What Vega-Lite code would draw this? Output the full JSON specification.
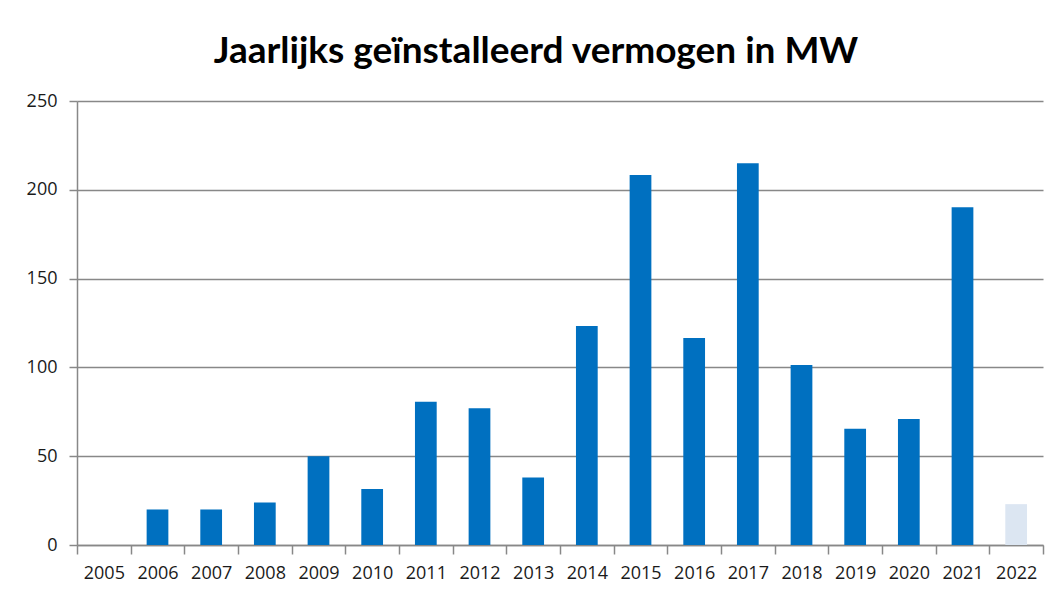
{
  "$schema": "https://vega.github.io/schema/vega-lite/v6.json",
  "autosize": {"type": "none"},
  "width": 966,
  "height": 444,
  "padding": {"left": 77, "top": 101, "right": 14, "bottom": 50},
  "background": "white",
  "title": {
    "text": "Jaarlijks geïnstalleerd vermogen in MW",
    "font": "Lato",
    "fontSize": 37,
    "fontWeight": "bold",
    "color": "#000000",
    "anchor": "middle",
    "dx": -24,
    "offset": 21
  },
  "data": {
    "values": [
      {"jaar": "2005", "mw": 0, "soort": "definitief"},
      {"jaar": "2006", "mw": 20, "soort": "definitief"},
      {"jaar": "2007", "mw": 20, "soort": "definitief"},
      {"jaar": "2008", "mw": 24, "soort": "definitief"},
      {"jaar": "2009", "mw": 50, "soort": "definitief"},
      {"jaar": "2010", "mw": 31.6, "soort": "definitief"},
      {"jaar": "2011", "mw": 80.6, "soort": "definitief"},
      {"jaar": "2012", "mw": 77, "soort": "definitief"},
      {"jaar": "2013", "mw": 38, "soort": "definitief"},
      {"jaar": "2014", "mw": 123.3, "soort": "definitief"},
      {"jaar": "2015", "mw": 208.4, "soort": "definitief"},
      {"jaar": "2016", "mw": 116.6, "soort": "definitief"},
      {"jaar": "2017", "mw": 215, "soort": "definitief"},
      {"jaar": "2018", "mw": 101.4, "soort": "definitief"},
      {"jaar": "2019", "mw": 65.4, "soort": "definitief"},
      {"jaar": "2020", "mw": 71, "soort": "definitief"},
      {"jaar": "2021", "mw": 190.2, "soort": "definitief"},
      {"jaar": "2022", "mw": 23, "soort": "voorlopig"}
    ]
  },
  "mark": {"type": "bar", "width": {"band": 0.405}},
  "encoding": {
    "x": {
      "field": "jaar",
      "type": "ordinal",
      "title": null,
      "scale": {"paddingInner": 0, "paddingOuter": 0},
      "axis": {
        "labelAngle": 0,
        "tickBand": "extent",
        "tickSize": 9,
        "tickColor": "#888888",
        "domainColor": "#888888",
        "domainWidth": 1.5,
        "tickWidth": 1.5,
        "labelFont": "Open Sans",
        "labelFontSize": 18,
        "labelColor": "#1a1a1a",
        "labelPadding": 10,
        "grid": false
      }
    },
    "y": {
      "field": "mw",
      "type": "quantitative",
      "title": null,
      "scale": {"domain": [0, 250], "nice": false},
      "axis": {
        "values": [0, 50, 100, 150, 200, 250],
        "tickSize": 8,
        "tickColor": "#888888",
        "tickWidth": 1.5,
        "domainColor": "#888888",
        "domainWidth": 1.5,
        "gridColor": "#888888",
        "gridWidth": 1.5,
        "labelFont": "Open Sans",
        "labelFontSize": 18,
        "labelColor": "#1a1a1a",
        "labelPadding": 12
      }
    },
    "color": {
      "field": "soort",
      "type": "nominal",
      "scale": {"domain": ["definitief", "voorlopig"], "range": ["#0070c0", "#dce6f2"]},
      "legend": null
    }
  },
  "config": {"view": {"stroke": null}}
}
